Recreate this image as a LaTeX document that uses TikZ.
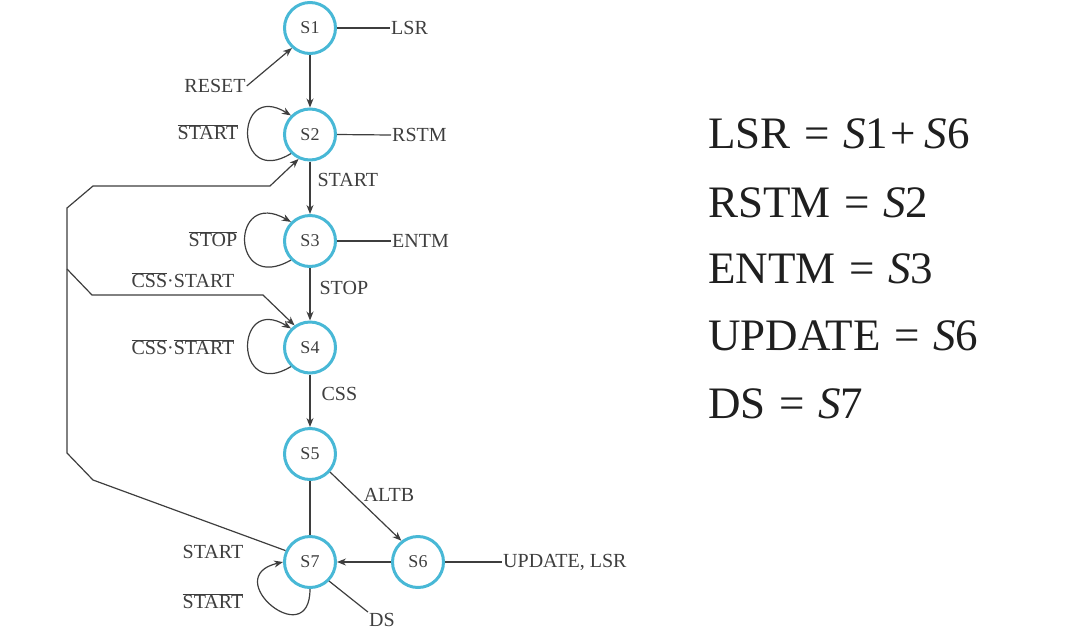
\documentclass[tikz,border=0pt]{standalone}
\usepackage{fontspec}
\setmainfont{Liberation Serif}
\usetikzlibrary{positioning,arrows.meta}
\definecolor{stcyan}{RGB}{72,184,214}
\definecolor{inkgray}{RGB}{62,62,62}
\newcommand{\nbar}[1]{$\overline{\mbox{#1}}$}
\newcommand{\eqto}{\hspace{.3em}=\hspace{.3em}}
\tikzset{
  state/.style={circle, draw=stcyan, line width=3pt, minimum size=51pt, inner sep=0pt,
                font=\fontsize{18}{20}\selectfont, text=inkgray},
  lbl/.style={font=\fontsize{20}{22}\selectfont, text=inkgray, inner sep=1pt},
  outp/.style={lbl, anchor=west},
  wire/.style={draw=inkgray, line width=1.2pt},
  arr/.style={wire, -{Stealth[length=9pt,width=7pt]}},
  eqn/.style={font=\fontsize{45}{48}\selectfont, anchor=base west, text=black!88, inner sep=0pt},
}
\begin{document}
\begin{tikzpicture}[x=1pt, y=-1pt, node distance=106.5pt and 108pt]
  \useasboundingbox (0,0) rectangle (1066,630);
  % states
  \node[state] (s1) at (310,28) {S1};
  \node[state, on grid, below=of s1] (s2) {S2};
  \node[state, on grid, below=of s2] (s3) {S3};
  \node[state, on grid, below=of s3] (s4) {S4};
  \node[state, on grid, below=of s4] (s5) {S5};
  \node[state, on grid, below=108pt of s5] (s7) {S7};
  \node[state, on grid, right=of s7] (s6) {S6};

  % outputs
  \node[outp] (lsr) at (390,28) {LSR};
  \node[outp] (rstm) at (391,135) {RSTM};
  \node[outp] (entm) at (391,241) {ENTM};
  \node[outp] (upd) at (502,562) {UPDATE, LSR};
  \node[lbl] (ds) at (382,620) {DS};
  \draw[wire] (s1.east) -- (lsr.west);
  \draw[wire] (s2.east) -- (rstm.west);
  \draw[wire] (s3.east) -- (entm.west);
  \draw[wire] (s6.east) -- (upd.west);
  \draw[wire] (s7.-45) -- (ds.north west);

  % input labels
  \node[lbl] (reset) at (215,86) {RESET};
  \node[lbl] (nst2) at (208,132) {\nbar{START}};
  \node[lbl] (nstop) at (213,239) {\nbar{STOP}};
  \node[lbl] (cst) at (183,280) {\nbar{CSS}·START};
  \node[lbl] (cnst) at (183,347) {\nbar{CSS}·\nbar{START}};
  \node[lbl] (st7) at (213,552) {START};
  \node[lbl] (nst7) at (213,601) {\nbar{START}};

  % transitions
  \draw[arr] (reset.east) -- (s1.228);
  \draw[arr] (s1) -- (s2);
  \draw[arr] (s2) -- node[lbl, right=6pt, pos=.35] {START} (s3);
  \draw[arr] (s3) -- node[lbl, right=8pt, pos=.38] {STOP} (s4);
  \draw[arr] (s4) -- node[lbl, right=10pt, pos=.38] {CSS} (s5);
  \draw[wire] (s5) -- (s7);
  \draw[arr] (s5.-42) -- node[lbl, above right, pos=.45] {ALTB} (s6.128);
  \draw[arr] (s6) -- (s7);

  % self loops
  \draw[arr] (s2.225) .. controls +(-57,35) and +(-57,-35) .. (s2.135);
  \draw[arr] (s3.225) .. controls +(-61,35) and +(-61,-35) .. (s3.135);
  \draw[arr] (s4.225) .. controls +(-57,35) and +(-57,-35) .. (s4.135);
  \draw[arr] (s7.270) .. controls +(0,65) and +(-65,15) .. (s7.180);

  % return paths
  \coordinate (split) at (67,269);
  \draw[arr] (s7.155) -- (93,480) -- (67,453) -- (split) -- (67,208)
    -- (93,186) -- (270,186) -- (s2.245);
  \draw[arr] (split) -- (92,295) -- (263,295) -- (s4.125);

  % output equations
  \node[eqn] (eq1) at (708,148) {LSR\eqto\textit{S}1\hspace{.05em}+\hspace{.2em}\textit{S}6};
  \node[eqn] (eq2) at (708,217) {RSTM\eqto\textit{S}2};
  \node[eqn] (eq3) at (708,283) {ENTM\eqto\textit{S}3};
  \node[eqn] (eq4) at (708,350) {UPDATE\eqto\textit{S}6};
  \node[eqn] (eq5) at (708,418) {DS\eqto\textit{S}7};
\end{tikzpicture}
\end{document}
